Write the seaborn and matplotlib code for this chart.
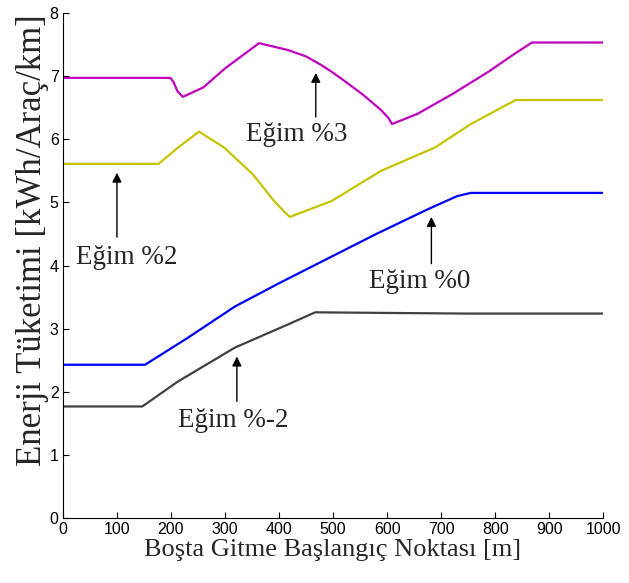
import matplotlib
matplotlib.use("Agg")
import matplotlib.pyplot as plt
import seaborn as sns
import pandas as pd

# ---- data ----
x_m3 = [0, 199, 205, 212, 222, 260, 300, 363, 417, 450, 477, 497, 523, 556, 589, 603, 609, 656, 722, 788, 834, 868, 1000]
y_m3 = [6.97, 6.97, 6.90, 6.76, 6.67, 6.82, 7.12, 7.52, 7.41, 7.31, 7.18, 7.07, 6.91, 6.70, 6.46, 6.33, 6.24, 6.40, 6.72, 7.07, 7.34, 7.53, 7.53]

x_m2 = [0, 177, 215, 252, 298, 351, 391, 410, 420, 497, 589, 689, 755, 838, 1000]
y_m2 = [5.61, 5.61, 5.88, 6.12, 5.87, 5.45, 5.02, 4.85, 4.77, 5.02, 5.50, 5.87, 6.24, 6.62, 6.62]

x_m0 = [0, 152, 230, 318, 400, 483, 580, 675, 730, 755, 1000]
y_m0 = [2.43, 2.43, 2.85, 3.35, 3.72, 4.08, 4.50, 4.89, 5.10, 5.15, 5.15]

x_mn2 = [0, 147, 212, 318, 417, 467, 600, 750, 1000]
y_mn2 = [1.77, 1.77, 2.16, 2.70, 3.07, 3.26, 3.25, 3.24, 3.24]

series_names = ["Eğim %3", "Eğim %2", "Eğim %0", "Eğim %-2"]
colors = ["#C000C0", "#C4C400", "#0000FF", "#404040"]

x_ticks = [0, 100, 200, 300, 400, 500, 600, 700, 800, 900, 1000]
y_ticks = [0, 1, 2, 3, 4, 5, 6, 7, 8]

x_label = "Boşta Gitme Başlangıç Noktası [m]"
y_label = "Enerji Tüketimi [kWh/Araç/km]"

# annotations: (text, text_x, text_y, arrow_x, arrow tail y, arrow head y)
ann_text = ["Eğim %3", "Eğim %2", "Eğim %0", "Eğim %-2"]
ann_tx = [433, 118, 661, 315]
ann_ty = [6.08, 4.12, 3.75, 1.55]
ann_ax = [468, 100, 682, 322]
ann_tail = [6.35, 4.45, 4.03, 1.85]
ann_head = [7.05, 5.47, 4.77, 2.56]

# ---- build long-form table ----
frames = []
for name, xs, ys in zip(series_names, [x_m3, x_m2, x_m0, x_mn2], [y_m3, y_m2, y_m0, y_mn2]):
    frames.append(pd.DataFrame({"x": xs, "y": ys, "series": name}))
df = pd.concat(frames, ignore_index=True)

sns.set_style("ticks")
plt.rcParams["xtick.direction"] = "in"
plt.rcParams["ytick.direction"] = "in"

fig = plt.figure(figsize=(6.29, 5.83), dpi=100)
ax = fig.add_axes([0.100, 0.111, 0.859, 0.867])

sns.lineplot(data=df, x="x", y="y", hue="series", hue_order=series_names,
             palette=colors, linewidth=1.6, legend=False, sort=False,
             estimator=None, ax=ax)

ax.set_xlim(0, 1000)
ax.set_ylim(0, 8)
ax.set_xticks(x_ticks)
ax.set_yticks(y_ticks)
ax.tick_params(axis="both", labelsize=11.5, length=4, width=0.8, colors="black")
for lab in ax.get_xticklabels() + ax.get_yticklabels():
    lab.set_family("Liberation Sans")
ax.tick_params(axis="x", pad=3)
ax.tick_params(axis="y", pad=3)

sns.despine(ax=ax)
for sp in ["left", "bottom"]:
    ax.spines[sp].set_linewidth(0.8)
    ax.spines[sp].set_color("black")

serif = ["Liberation Serif", "DejaVu Serif"]
ax.set_xlabel(x_label, fontsize=19, family=serif, labelpad=1)
ax.set_ylabel(y_label, fontsize=25, family=serif)
ax.yaxis.set_label_coords(-0.026, 0.55)

for t, tx, ty, axx, tail, head in zip(ann_text, ann_tx, ann_ty, ann_ax, ann_tail, ann_head):
    ax.text(tx, ty, t, fontsize=19.5, family=serif, ha="center", va="center")
    ax.annotate("", xy=(axx, head), xytext=(axx, tail),
                arrowprops=dict(arrowstyle="-|>", color="black", lw=1.0,
                                mutation_scale=14, shrinkA=0, shrinkB=0))

fig.savefig("out.png", dpi=100)
